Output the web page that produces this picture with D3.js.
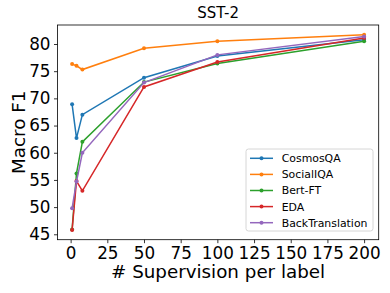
<!DOCTYPE html>
<html>
<head>
<meta charset="utf-8">
<script src="https://cdn.jsdelivr.net/npm/d3@7"></script>
<style>
  body { margin: 0; background: #fff; }
  text { font-family: "DejaVu Sans", sans-serif; fill: #000; }
</style>
</head>
<body>
<svg id="chart" width="390" height="293"></svg>
<script>
const supervision = [1, 4, 8, 50, 100, 200];
const seriesNames = ['CosmosQA', 'SocialIQA', 'Bert-FT', 'EDA', 'BackTranslation'];
const cosmosQA = [68.9, 62.7, 67.0, 73.8, 77.8, 80.8];
const socialIQA = [76.3, 76.0, 75.3, 79.2, 80.5, 81.7];
const bertFT = [45.9, 56.2, 62.0, 73.0, 76.4, 80.5];
const eda = [45.8, 54.8, 53.0, 72.1, 76.7, 81.1];
const backTranslation = [49.8, 54.7, 60.0, 72.9, 78.0, 81.4];
const xTicks = [0, 25, 50, 75, 100, 125, 150, 175, 200];
const yTicks = [45, 50, 55, 60, 65, 70, 75, 80];
const colors = ['#1f77b4', '#ff7f0e', '#2ca02c', '#d62728', '#9467bd'];

const series = [cosmosQA, socialIQA, bertFT, eda, backTranslation].map((vals, i) => ({
  name: seriesNames[i],
  color: colors[i],
  points: vals.map((v, j) => ({ x: supervision[j], y: v }))
}));

const margin = { top: 25, right: 11.3, bottom: 53.3, left: 57.5 };
const width = 390, height = 293;
const svg = d3.select('#chart');

// matplotlib-like 5% padding around the data
const allY = series.flatMap((s) => s.points.map((p) => p.y));
const xExt = d3.extent(supervision), yExt = d3.extent(allY);
const xPad = (xExt[1] - xExt[0]) * 0.05, yPad = (yExt[1] - yExt[0]) * 0.05;

const x = d3.scaleLinear()
  .domain([xExt[0] - xPad, xExt[1] + xPad])
  .range([margin.left, width - margin.right]);
const y = d3.scaleLinear()
  .domain([yExt[0] - yPad, yExt[1] + yPad])
  .range([height - margin.bottom, margin.top]);

// axes
const xAxis = svg.append('g')
  .attr('transform', `translate(0,${height - margin.bottom})`)
  .call(d3.axisBottom(x).tickValues(xTicks).tickSize(3.5).tickPadding(3.5).tickSizeOuter(0));
const yAxis = svg.append('g')
  .attr('transform', `translate(${margin.left},0)`)
  .call(d3.axisLeft(y).tickValues(yTicks).tickSize(3.5).tickPadding(3.5).tickSizeOuter(0));

[xAxis, yAxis].forEach((ax) => {
  ax.select('.domain').remove();
  ax.selectAll('line').attr('stroke', '#000').attr('stroke-width', 0.8);
  ax.selectAll('text').style('font-size', '16.8px').style('font-family', '"DejaVu Sans", sans-serif');
});

// frame
svg.append('rect')
  .attr('x', margin.left).attr('y', margin.top)
  .attr('width', width - margin.left - margin.right)
  .attr('height', height - margin.top - margin.bottom)
  .attr('fill', 'none').attr('stroke', '#000').attr('stroke-width', 0.8);

const line = d3.line().x((d) => x(d.x)).y((d) => y(d.y));

const plot = svg.append('g');
series.forEach((s) => {
  const g = plot.append('g');
  g.append('path')
    .datum(s.points)
    .attr('d', line)
    .attr('fill', 'none')
    .attr('stroke', s.color)
    .attr('stroke-width', 1.5);
  g.selectAll('circle')
    .data(s.points)
    .join('circle')
    .attr('cx', (d) => x(d.x))
    .attr('cy', (d) => y(d.y))
    .attr('r', 2)
    .attr('fill', s.color);
});

// title and labels
svg.append('text')
  .attr('x', (margin.left + width - margin.right) / 2).attr('y', 18)
  .attr('text-anchor', 'middle').style('font-size', '15px')
  .text('SST-2');
svg.append('text')
  .attr('x', (margin.left + width - margin.right) / 2).attr('y', 278)
  .attr('text-anchor', 'middle').style('font-size', '18.3px')
  .text('# Supervision per label');
svg.append('text')
  .attr('transform', `translate(25,${(margin.top + height - margin.bottom) / 2}) rotate(-90)`)
  .attr('text-anchor', 'middle').style('font-size', '18.3px')
  .text('Macro F1');

// legend
const legend = svg.append('g').attr('transform', 'translate(246,149)');
legend.append('rect')
  .attr('width', 127).attr('height', 82).attr('rx', 2.5)
  .attr('fill', '#fff').attr('fill-opacity', 0.8)
  .attr('stroke', '#ccc').attr('stroke-width', 0.8);
series.forEach((s, i) => {
  const row = legend.append('g').attr('transform', `translate(0,${9.3 + i * 16.1})`);
  row.append('line').attr('x1', 4).attr('x2', 27).attr('stroke', s.color).attr('stroke-width', 1.5);
  row.append('circle').attr('cx', 15.5).attr('r', 2).attr('fill', s.color);
  row.append('text').attr('x', 35.7).attr('dy', '0.36em').style('font-size', '10.9px').text(s.name);
});
</script>
</body>
</html>
